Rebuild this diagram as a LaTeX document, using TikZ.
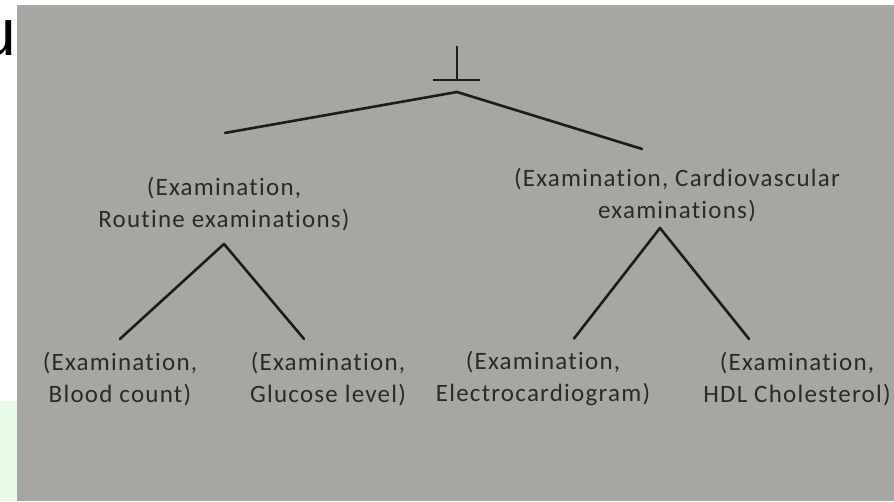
\documentclass[tikz,border=0pt]{standalone}
\usepackage{fontspec}
\setmainfont[Ligatures=NoCommon]{Carlito}
\newfontfamily\ufont{Liberation Sans}
\definecolor{paper}{RGB}{166,167,162}
\definecolor{ink}{RGB}{42,42,40}
\definecolor{lineink}{RGB}{28,28,28}
\definecolor{palegreen}{RGB}{232,251,232}
\tikzset{
  x=1pt,y=-1pt,
  lbl/.style={inner sep=0pt,align=center,text=ink,
    font=\fontsize{25}{32}\selectfont\addfontfeature{LetterSpace=5}},
  branch/.style={draw=lineink,line width=2.6pt,line cap=round,line join=round},
}
\begin{document}
\begin{tikzpicture}
\useasboundingbox (0,0) rectangle (894,501);
\fill[white] (0,0) rectangle (894,501);
\node[anchor=base east,inner sep=0pt,font=\ufont\fontsize{66}{66}\selectfont] (u) at (16,55) {u};
\fill[palegreen] (0,401) rectangle (17,501);
\fill[paper] (17,5) rectangle (894,501);

% root symbol
\coordinate (top) at (457,46);
\coordinate (bar) at (457,80);
\coordinate (root) at (457,92);
\draw[branch,line cap=butt] (top) -- (bar);
\draw[branch,line cap=butt] ([xshift=-24]bar) -- ([xshift=23]bar);

% nodes
\node[lbl] (L) at (224,204) {(Examination,\\Routine examinations)};
\node[lbl] (R) at (677,195) {(Examination, Cardiovascular\\examinations)};
\node[lbl] (LL) at (120,379) {(Examination,\\Blood count)};
\node[lbl] (LR) at (328,379) {(Examination,\\Glucose level)};
\node[lbl] (RL) at (543,379) {(Examination,\\Electrocardiogram)};
\node[lbl] (RR) at (797,379) {(Examination,\\HDL Cholesterol)};

% apex points
\coordinate (La) at (224,244);
\coordinate (Ra) at (660,228);

\draw[branch] ([shift={(1,-44)}]L.north) -- (root) -- ([shift={(-35,-19)}]R.north);
\draw[branch] ([shift={(0,-13)}]LL.north) -- (La) -- ([shift={(-24,-13)}]LR.north);
\draw[branch] ([shift={(31,-13)}]RL.north) -- (Ra) -- ([shift={(-48,-13)}]RR.north);
\end{tikzpicture}
\end{document}
